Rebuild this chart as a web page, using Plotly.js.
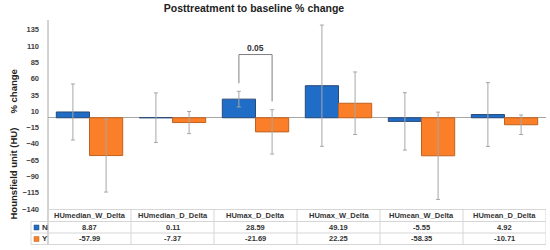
<!DOCTYPE html>
<html>
<head>
<meta charset="utf-8">
<script src="https://cdn.plot.ly/plotly-3.0.1.min.js"></script>
<style>
  html, body { margin: 0; padding: 0; background: #fff; }
  #plotDiv { width: 550px; height: 250px; }
</style>
</head>
<body>
<div id="plotDiv"></div>
<script>
// chart values
const categories = ['HUmedian_W_Delta', 'HUmedian_D_Delta', 'HUmax_D_Delta', 'HUmax_W_Delta', 'HUmean_W_Delta', 'HUmean_D_Delta'];
const seriesN = [8.87, 0.11, 28.59, 49.19, -5.55, 4.92];
const seriesY = [-57.99, -7.37, -21.69, 22.25, -58.35, -10.71];
const errorN = [43, 38, 12, 93, 44, 49];
const errorY = [56, 17, 34, 48, 67, 15];
const yTicks = [-140, -115, -90, -65, -40, -15, 10, 35, 60, 85, 110, 135];
const pLabel = '0.05';
const yTitleParts = ['Hounsfield unit (HU)', '% change'];

const blue = '#1f6dc6', blueEdge = '#2a4a78';
const orange = '#fa7f28', orangeEdge = '#c0621f';
const gridGray = '#d6d6d6';
const font = 'Liberation Sans, Arial, sans-serif';

// plot area in pixels
const L = 48, R = 546, T = 20, B = 209;
const px = x => (x - L) / (R - L);
const py = y => (B - y) / (B - T);

const traceN = {
    type: 'bar', name: 'N', x: categories, y: seriesN,
    marker: {color: blue, line: {color: blueEdge, width: 1}},
    error_y: {type: 'data', array: errorN, color: '#a6a6a6', thickness: 1, width: 2},
    hoverinfo: 'skip'
};
const traceY = {
    type: 'bar', name: 'Y', x: categories, y: seriesY,
    marker: {color: orange, line: {color: orangeEdge, width: 1}},
    error_y: {type: 'data', array: errorY, color: '#a6a6a6', thickness: 1, width: 2},
    hoverinfo: 'skip'
};

const shapes = [];
const annotations = [];
const line = {color: gridGray, width: 1};

// axis line running down through the table
shapes.push({type: 'line', xref: 'paper', yref: 'paper', x0: 0, x1: 0, y0: py(T), y1: py(244.5), line: {color: '#a6a6a6', width: 1}});
// table rows
[209.5, 221.5, 233, 244.5].forEach((y, i) => {
    shapes.push({type: 'line', xref: 'paper', yref: 'paper', x0: i === 0 ? 0 : px(31), x1: 1, y0: py(y), y1: py(y), line});
});
shapes.push({type: 'line', xref: 'paper', yref: 'paper', x0: px(31), x1: px(31), y0: py(221.5), y1: py(244.5), line});
// column separators
for (let i = 0; i <= categories.length; i++) {
    shapes.push({type: 'line', xref: 'x', yref: 'paper', x0: i - 0.5, x1: i - 0.5, y0: py(209.5), y1: py(244.5), line});
}
// legend keys
[[blue, blueEdge, 227.5], [orange, orangeEdge, 239]].forEach(([c, e, y]) => {
    shapes.push({type: 'rect', xref: 'paper', yref: 'paper', x0: px(34), x1: px(39), y0: py(y + 2.5), y1: py(y - 2.5), fillcolor: c, line: {color: e, width: 0.5}});
});
annotations.push({xref: 'paper', yref: 'paper', x: px(40), y: py(227.5), text: 'N', showarrow: false, xanchor: 'left', yanchor: 'middle', font: {family: font, size: 8, color: '#333', weight: 'bold'}});
annotations.push({xref: 'paper', yref: 'paper', x: px(40), y: py(239), text: 'Y', showarrow: false, xanchor: 'left', yanchor: 'middle', font: {family: font, size: 8, color: '#333', weight: 'bold'}});

// table cells
categories.forEach((c, i) => {
    annotations.push({xref: 'x', yref: 'paper', x: i, y: py(215.5), text: c, showarrow: false, yanchor: 'middle', font: {family: font, size: 7.5, color: '#333', weight: 'bold'}});
    annotations.push({xref: 'x', yref: 'paper', x: i, y: py(227.5), text: seriesN[i].toFixed(2), showarrow: false, yanchor: 'middle', font: {family: font, size: 7.5, color: '#333', weight: 'bold'}});
    annotations.push({xref: 'x', yref: 'paper', x: i, y: py(239), text: seriesY[i].toFixed(2), showarrow: false, yanchor: 'middle', font: {family: font, size: 7.5, color: '#333', weight: 'bold'}});
});

// significance bracket on HUmax_D_Delta
shapes.push({type: 'path', xref: 'x', yref: 'y', path: 'M 1.8,53 L 1.8,97 L 2.2,97 L 2.2,25', line: {color: '#7f7f7f', width: 1}});
annotations.push({xref: 'x', yref: 'y', x: 2, y: 97, text: pLabel, showarrow: false, yanchor: 'bottom', font: {family: font, size: 8.5, color: '#333', weight: 'bold'}});

// y axis title, drawn in two pieces on one line
const yTitleFont = {family: font, size: 9.5, color: '#222', weight: 'bold'};
annotations.push({xref: 'paper', yref: 'paper', x: px(12.5), y: py(222), text: yTitleParts[0], textangle: -90, showarrow: false, xanchor: 'center', yanchor: 'bottom', font: yTitleFont});
annotations.push({xref: 'paper', yref: 'paper', x: px(12.5), y: py(68), text: yTitleParts[1], textangle: -90, showarrow: false, xanchor: 'center', yanchor: 'top', font: yTitleFont});

const layout = {
    width: 550, height: 250,
    margin: {l: L, r: 550 - R, t: T, b: 250 - B},
    paper_bgcolor: '#fff', plot_bgcolor: '#fff',
    title: {text: 'Posttreatment to baseline % change', xref: 'container', x: 254 / 550, xanchor: 'center', y: 1 - 8.5 / 250, yanchor: 'middle', font: {family: font, size: 10.5, color: '#222', weight: 'bold'}},
    showlegend: false,
    barmode: 'group', bargap: 0.2, bargroupgap: 0,
    xaxis: {showticklabels: false, ticks: '', showgrid: false, zeroline: false, showline: false, range: [-0.5, 5.5]},
    yaxis: {range: [-140, 150], tickvals: yTicks, ticks: '', showgrid: false, showline: false, zeroline: true, zerolinecolor: '#a6a6a6', zerolinewidth: 1,
            ticklabelstandoff: 8, tickfont: {family: font, size: 7.5, color: '#404040', weight: 'bold'}},
    shapes, annotations
};

Plotly.newPlot('plotDiv', [traceN, traceY], layout, {staticPlot: true}).catch(error => {
    console.error('Error in plot:', error);
});
</script>
</body>
</html>
